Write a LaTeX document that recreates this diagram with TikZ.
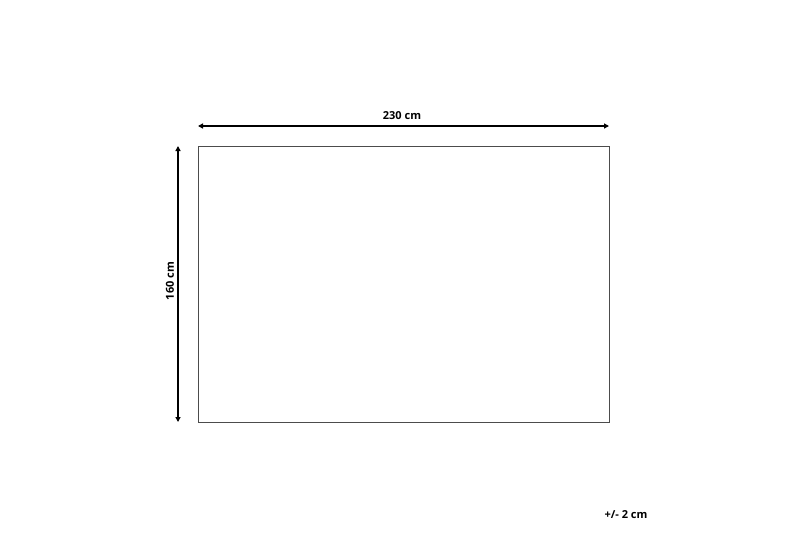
\documentclass[tikz,border=0pt]{standalone}
\usepackage{fontspec}
\setmainfont{Open Sans}
\usetikzlibrary{arrows.meta}
\begin{document}
\begin{tikzpicture}[x=1pt,y=-1pt,
  dimline/.style={line width=1.4pt,{Triangle[length=5pt,width=5pt]}-{Triangle[length=5pt,width=5pt]}},
  dimlabel/.style={font=\bfseries\fontsize{11}{13}\selectfont,inner sep=0pt}]
\useasboundingbox (0,0) rectangle (800,533);
\node[draw=black!70,line width=0.8pt,minimum width=411pt,minimum height=276pt,inner sep=0pt,anchor=north west] (rug) at (198,146) {};
\coordinate (hl) at (198,126);
\coordinate (hr) at (609,126);
\coordinate (vt) at (178,146);
\coordinate (vb) at (178,422);
\draw[dimline] (hl) -- (hr);
\draw[dimline] (vt) -- (vb);
\node[dimlabel] (w) at (402,116) {230 cm};
\node[dimlabel,rotate=90] (h) at (170,281) {160 cm};
\node[dimlabel] (tol) at (626,515) {+/- 2 cm};
\end{tikzpicture}
\end{document}
